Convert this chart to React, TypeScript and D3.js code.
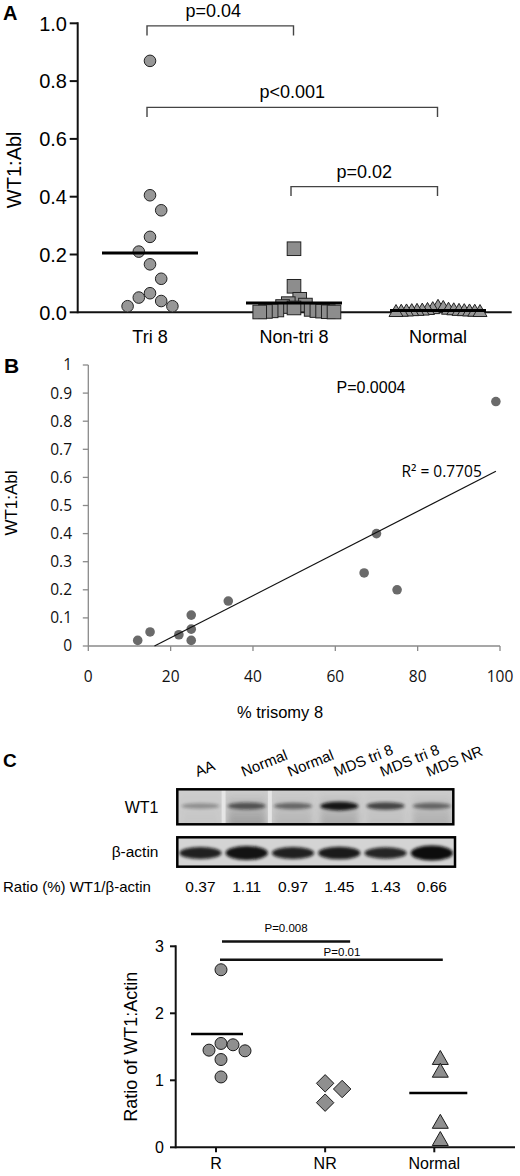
import * as d3 from "d3";

const FONT = "'Liberation Sans', Arial, Helvetica, sans-serif";
const FONT_XL = "'Open Sans', 'Liberation Sans', sans-serif";

// ---------- panel A: WT1:Abl by group ----------
const groupsA = ["Tri 8", "Non-tri 8", "Normal"];
const tri8 = [0.87, 0.405, 0.353, 0.261, 0.21, 0.166, 0.116, 0.066, 0.051, 0.039, 0.021, 0.021];
const nonTri8 = [0.22, 0.09, 0.045, 0.03, 0.025, 0.02, 0.015, 0.01, 0.008, 0.006, 0.005, 0.004, 0.003, 0.002, 0.001, 0.001];
const normalA = [0.02, 0.016, 0.012, 0.01, 0.009, 0.008, 0.007, 0.006, 0.006, 0.005, 0.005, 0.004, 0.004, 0.003, 0.003, 0.002, 0.002];
const meanLinesA = [0.205, 0.032, 0.006];
const ticksA = [0, 0.2, 0.4, 0.6, 0.8, 1.0];
const bracketsA = [
  { from: 0, to: 1, level: 0.991, label: "p=0.04" },
  { from: 0, to: 2, level: 0.709, label: "p<0.001" },
  { from: 1, to: 2, level: 0.435, label: "p=0.02" },
];

// ---------- panel B: scatter ----------
const trisomyPct = [99, 70, 67, 75, 34, 25, 25, 25, 22, 15, 12];
const wt1Abl = [0.87, 0.4, 0.26, 0.2, 0.16, 0.11, 0.06, 0.02, 0.04, 0.05, 0.02];
const ticksBY = [0, 0.1, 0.2, 0.3, 0.4, 0.5, 0.6, 0.7, 0.8, 0.9, 1];
const ticksBX = [0, 20, 40, 60, 80, 100];

// ---------- panel C: blot + ratio plot ----------
const lanes = ["AA", "Normal", "Normal", "MDS tri 8", "MDS tri 8", "MDS NR"];
const ratios = ["0.37", "1.11", "0.97", "1.45", "1.43", "0.66"];
const wt1Intensity = [0.3, 0.6, 0.5, 0.95, 0.7, 0.5];
const wt1Smear = [0.05, 0.4, 0.2, 0.3, 0.1, 0.25];
const actinIntensity = [0.9, 0.97, 0.9, 0.93, 0.88, 1.0];

const groupsC = ["R", "NR", "Normal"];
const rVals = [2.65, 1.55, 1.53, 1.45, 1.44, 1.31, 1.05];
const nrVals = [0.955, 0.87, 0.666];
const normalC = [1.32, 1.13, 0.367, 0.11];
const meanLinesC = [1.69, null, 0.81];
const ticksC = [0, 1, 2, 3];

// simple column beeswarm: greedy, highest value first
function swarm(values: number[], y: (v: number) => number, size: number, minDy: number, maxHalf: number) {
  const order = values.map((_, i) => i).sort((a, b) => values[b] - values[a]);
  const slots: number[] = new Array(values.length).fill(0);
  const placed: { slot: number; y: number }[] = [];
  for (const i of order) {
    const py = y(values[i]);
    const free = (s: number) => placed.every((p) => p.slot !== s || Math.abs(p.y - py) >= minDy);
    const count = (s: number) => placed.filter((p) => Math.sign(p.slot) === Math.sign(s)).length;
    let chosen = 0;
    if (!free(0)) {
      for (let k = 1; k < 60; k++) {
        const first = count(k) <= count(-k) ? k : -k;
        if (free(first)) { chosen = first; break; }
        if (free(-first)) { chosen = -first; break; }
      }
    }
    slots[i] = chosen;
    placed.push({ slot: chosen, y: py });
  }
  const maxSlot = d3.max(slots, (s) => Math.abs(s)) || 1;
  const step = Math.min(size, maxHalf / maxSlot);
  return slots.map((s) => s * step);
}

const triPath = (x: number, y: number, w: number, h: number) =>
  `M${x},${y - h * 0.6}L${x + w / 2},${y + h * 0.4}L${x - w / 2},${y + h * 0.4}Z`;
const diamondPath = (x: number, y: number, r: number) =>
  `M${x},${y - r}L${x + r},${y}L${x},${y + r}L${x - r},${y}Z`;

const PanelA = () => {
  const y = d3.scaleLinear().domain([0, 1]).range([312.3, 23.3]);
  const x = d3.scalePoint().domain(groupsA).range([150, 438]);
  const xs = groupsA.map((g) => x(g)!);
  const offTri = swarm(tri8, y, 11.2, 17.4, 40);
  const offNon = swarm(nonTri8, y, 14, 21, 40);
  const offNorm = swarm(normalA, y, 11, 16, 42);
  const symFill = "#979797";
  const symStroke = "#222";

  return (
    <g>
      <text x={3} y={20} fontFamily={FONT} fontWeight="bold" fontSize={20}>A</text>
      <text
        transform={`translate(21,${(y(0) + y(1)) / 2 + 2}) rotate(-90)`}
        textAnchor="middle"
        fontFamily={FONT}
        fontSize={20}
      >
        WT1:Abl
      </text>
      {/* axes */}
      <line x1={77.7} x2={77.7} y1={y(1) - 1} y2={y(0) + 1} stroke="#111" strokeWidth={2} />
      <line x1={77.7} x2={511.7} y1={y(0)} y2={y(0)} stroke="#111" strokeWidth={2} />
      {ticksA.map((t) => (
        <g key={t}>
          <line x1={69.7} x2={77.7} y1={y(t)} y2={y(t)} stroke="#111" strokeWidth={2} />
          <text x={67} y={y(t)} dy="0.36em" textAnchor="end" fontFamily={FONT} fontSize={20}>
            {d3.format(".1f")(t)}
          </text>
        </g>
      ))}
      {groupsA.map((g) => (
        <text key={g} x={x(g)} y={343} textAnchor="middle" fontFamily={FONT} fontSize={18}>
          {g}
        </text>
      ))}
      {/* brackets */}
      {bracketsA.map((b, i) => {
        const x1 = xs[b.from] - 3;
        const x2 = xs[b.to] - 0.5;
        const yy = y(b.level);
        const tip = y(b.level - 0.033);
        return (
          <g key={i}>
            <path d={`M${x1},${tip}V${yy}H${x2}V${tip}`} fill="none" stroke="#444" strokeWidth={1.4} />
            <text
              x={(x1 + x2) / 2 + (b.from === 0 && b.to === 1 ? -7 : 0)}
              y={yy - 9}
              textAnchor="middle"
              fontFamily={FONT}
              fontSize={18}
            >
              {b.label}
            </text>
          </g>
        );
      })}
      {/* symbols */}
      {tri8.map((v, i) => (
        <circle key={i} cx={xs[0] + offTri[i]} cy={y(v)} r={5.8} fill={symFill} stroke={symStroke} strokeWidth={1} />
      ))}
      {nonTri8.map((v, i) => (
        <rect
          key={i}
          x={xs[1] + offNon[i] - 6.8}
          y={y(v) - 6.8}
          width={13.6}
          height={13.6}
          fill="#8d8d8d"
          stroke={symStroke}
          strokeWidth={1}
        />
      ))}
      {normalA.map((v, i) => (
        <path key={i} d={triPath(xs[2] + offNorm[i], y(v), 14, 12)} fill={symFill} stroke={symStroke} strokeWidth={1} />
      ))}
      {meanLinesA.map((m, i) => (
        <line key={i} x1={xs[i] - 48} x2={xs[i] + 48} y1={y(m)} y2={y(m)} stroke="#000" strokeWidth={3} />
      ))}
    </g>
  );
};

const PanelB = () => {
  const x = d3.scaleLinear().domain([0, 100]).range([88.3, 500]);
  const y = d3.scaleLinear().domain([0, 1]).range([646, 365]);
  const mx = d3.mean(trisomyPct)!;
  const my = d3.mean(wt1Abl)!;
  const sxy = d3.sum(trisomyPct, (v, i) => (v - mx) * (wt1Abl[i] - my));
  const sxx = d3.sum(trisomyPct, (v) => (v - mx) ** 2);
  const slope = sxy / sxx;
  const icpt = my - slope * mx;
  const x0 = -icpt / slope;
  const x1 = d3.max(trisomyPct)!;
  const axis = "#8a8a8a";

  return (
    <g>
      <text x={4} y={373} fontFamily={FONT} fontWeight="bold" fontSize={21}>B</text>
      <text transform={`translate(17,503) rotate(-90)`} textAnchor="middle" fontFamily={FONT} fontSize={17}>
        WT1:Abl
      </text>
      <line x1={x(0)} x2={x(0)} y1={y(1)} y2={y(0)} stroke={axis} strokeWidth={1.3} />
      <line x1={x(0)} x2={x(100)} y1={y(0)} y2={y(0)} stroke={axis} strokeWidth={1.3} />
      {ticksBY.map((t) => (
        <g key={t}>
          <line x1={x(0) - 5.5} x2={x(0)} y1={y(t)} y2={y(t)} stroke={axis} strokeWidth={1.3} />
          <text x={72} y={y(t)} dy="0.35em" textAnchor="end" fontFamily={FONT_XL} fontSize={15.5} fill="#111">
            {d3.format("~g")(t)}
          </text>
        </g>
      ))}
      {ticksBX.map((t) => (
        <g key={t}>
          <line x1={x(t)} x2={x(t)} y1={y(0)} y2={y(0) + 5} stroke={axis} strokeWidth={1.3} />
          <text x={x(t)} y={681.5} textAnchor="middle" fontFamily={FONT_XL} fontSize={15.5} fill="#111">
            {t}
          </text>
        </g>
      ))}
      <text x={280} y={718} textAnchor="middle" fontFamily={FONT} fontSize={16.5}>% trisomy 8</text>
      {trisomyPct.map((v, i) => (
        <circle key={i} cx={x(v)} cy={y(wt1Abl[i])} r={4.8} fill="#6a6a6a" />
      ))}
      <line x1={x(x0)} y1={y(0)} x2={x(x1)} y2={y(slope * x1 + icpt)} stroke="#111" strokeWidth={1.2} />
      <text x={336.5} y={393} fontFamily={FONT} fontSize={16}>P=0.0004</text>
      <text x={401.5} y={476.5} fontFamily={FONT_XL} fontSize={15.5}>R² = 0.7705</text>
    </g>
  );
};

const Blot = () => {
  const lx = d3.scaleBand<number>().domain(lanes.map((_, i) => i)).range([177.3, 455]);
  const bw = lx.bandwidth();
  const cx = (i: number) => lx(i)! + bw / 2;
  const wt1 = { x: 177.3, y: 789.3, w: 276, h: 35 };
  const act = { x: 177.3, y: 837.3, w: 277.7, h: 29.4 };

  return (
    <g>
      <defs>
        <filter id="blurBand" x="-20%" y="-100%" width="140%" height="300%">
          <feGaussianBlur stdDeviation="1.6" />
        </filter>
        <filter id="blurSmear" x="-20%" y="-50%" width="140%" height="200%">
          <feGaussianBlur stdDeviation="3" />
        </filter>
        <linearGradient id="smear" x1="0" y1="0" x2="0" y2="1">
          <stop offset="0" stopColor="#555" stopOpacity={0.2} />
          <stop offset="1" stopColor="#444" stopOpacity={1} />
        </linearGradient>
        <clipPath id="clipWt1">
          <rect x={wt1.x} y={wt1.y} width={wt1.w} height={wt1.h} />
        </clipPath>
        <clipPath id="clipAct">
          <rect x={act.x} y={act.y} width={act.w} height={act.h} />
        </clipPath>
      </defs>
      <text x={3} y={767} fontFamily={FONT} fontWeight="bold" fontSize={19}>C</text>
      {lanes.map((l, i) => (
        <text
          key={i}
          transform={`translate(${cx(i) - 3},777) rotate(-22)`}
          fontFamily={FONT}
          fontSize={15}
        >
          {l}
        </text>
      ))}
      {/* WT1 blot */}
      <g clipPath="url(#clipWt1)">
        <rect x={wt1.x} y={wt1.y} width={wt1.w} height={wt1.h} fill="#cdcdcd" />
        {lanes.map((_, i) => (
          <rect
            key={i}
            x={lx(i)! + 4}
            y={wt1.y + 6}
            width={bw - 8}
            height={wt1.h}
            fill="url(#smear)"
            opacity={wt1Smear[i]}
            filter="url(#blurSmear)"
          />
        ))}
        {[1, 2].map((i) => (
          <rect key={i} x={lx(i)! - 2} y={wt1.y} width={4} height={wt1.h} fill="#ececec" opacity={0.8} />
        ))}
        {lanes.map((_, i) => (
          <ellipse
            key={i}
            cx={cx(i)}
            cy={806}
            rx={bw / 2 - 4}
            ry={2 + 2.5 * wt1Intensity[i]}
            fill="#111"
            opacity={wt1Intensity[i]}
            filter="url(#blurBand)"
          />
        ))}
      </g>
      <rect x={wt1.x} y={wt1.y} width={wt1.w} height={wt1.h} fill="none" stroke="#000" strokeWidth={2.5} />
      {/* actin blot */}
      <g clipPath="url(#clipAct)">
        <rect x={act.x} y={act.y} width={act.w} height={act.h} fill="#d4d4d4" />
        {lanes.map((_, i) => (
          <ellipse
            key={i}
            cx={cx(i)}
            cy={853}
            rx={bw / 2 - 2}
            ry={3 + 4.5 * actinIntensity[i] ** 4}
            fill="#0c0c0c"
            opacity={actinIntensity[i]}
            filter="url(#blurBand)"
          />
        ))}
      </g>
      <rect x={act.x} y={act.y} width={act.w} height={act.h} fill="none" stroke="#000" strokeWidth={2.5} />
      <text x={158.5} y={813} textAnchor="end" fontFamily={FONT} fontSize={16}>WT1</text>
      <text x={158.5} y={856.5} textAnchor="end" fontFamily={FONT} fontSize={15.5}>β-actin</text>
      <text x={3} y={891.5} fontFamily={FONT} fontSize={15}>Ratio (%) WT1/β-actin</text>
      {ratios.map((r, i) => (
        <text key={i} x={cx(i)} y={891.5} textAnchor="middle" fontFamily={FONT} fontSize={15.5}>
          {r}
        </text>
      ))}
    </g>
  );
};

const PanelC = () => {
  const y = d3.scaleLinear().domain([0, 3]).range([1147.3, 946.3]);
  const x = d3.scalePoint().domain(groupsC).range([216, 434.3]);
  const xs = groupsC.map((g) => x(g)!);
  const offR = swarm(rVals, y, 12, 12, 40);
  const offNR = swarm(nrVals, y, 17, 17, 40);
  const offN = swarm(normalC, y, 16, 12, 40);
  const fill = "#8f8f8f";
  const stroke = "#1a1a1a";

  return (
    <g>
      <text
        transform={`translate(137,${(y(0) + y(3)) / 2}) rotate(-90)`}
        textAnchor="middle"
        fontFamily={FONT}
        fontSize={18}
      >
        Ratio of WT1:Actin
      </text>
      <line x1={175.7} x2={175.7} y1={y(3) - 1} y2={y(0) + 1} stroke="#111" strokeWidth={2} />
      <line x1={175.7} x2={515} y1={y(0)} y2={y(0)} stroke="#111" strokeWidth={2} />
      {ticksC.map((t) => (
        <g key={t}>
          <line x1={170} x2={175.7} y1={y(t)} y2={y(t)} stroke="#111" strokeWidth={2} />
          <text x={164} y={y(t)} dy="0.36em" textAnchor="end" fontFamily={FONT} fontSize={16}>
            {t}
          </text>
        </g>
      ))}
      {groupsC.map((g) => (
        <g key={g}>
          <line x1={x(g)} x2={x(g)} y1={y(0)} y2={y(0) + 5} stroke="#111" strokeWidth={2} />
          <text x={x(g)} y={1168.5} textAnchor="middle" fontFamily={FONT} fontSize={16}>
            {g}
          </text>
        </g>
      ))}
      {/* significance bars */}
      <line x1={xs[0] + 6} x2={xs[1] + 25} y1={y(3.07)} y2={y(3.07)} stroke="#111" strokeWidth={2.5} />
      <text x={(xs[0] + 6 + xs[1] + 25) / 2} y={y(3.07) - 9.5} textAnchor="middle" fontFamily={FONT} fontSize={11.5}>
        P=0.008
      </text>
      <line x1={xs[0] + 4} x2={xs[2] + 8.5} y1={y(2.8)} y2={y(2.8)} stroke="#111" strokeWidth={2.5} />
      <text x={342} y={y(2.8) - 4} textAnchor="middle" fontFamily={FONT} fontSize={11.5}>
        P=0.01
      </text>
      {rVals.map((v, i) => (
        <circle key={i} cx={xs[0] + 5 + offR[i]} cy={y(v)} r={6} fill={fill} stroke={stroke} strokeWidth={1} />
      ))}
      {nrVals.map((v, i) => (
        <path key={i} d={diamondPath(xs[1] + offNR[i], y(v), 8.7)} fill={fill} stroke={stroke} strokeWidth={1} />
      ))}
      {normalC.map((v, i) => (
        <path key={i} d={triPath(xs[2] + 6 + offN[i], y(v), 16, 14)} fill={fill} stroke={stroke} strokeWidth={1} />
      ))}
      {meanLinesC.map((m, i) =>
        m === null ? null : (
          <line key={i} x1={xs[i] + 1 - 26} x2={xs[i] + 1 + 26 + (i === 2 ? 6 : 0)} y1={y(m)} y2={y(m)} stroke="#000" strokeWidth={2.5} />
        )
      )}
    </g>
  );
};

export default function App() {
  return (
    <svg
      width={520}
      height={1176}
      viewBox="0 0 520 1176"
      style={{ position: "absolute", left: 0, top: 0, background: "#fff" }}
    >
      <rect width={520} height={1176} fill="#fff" />
      <PanelA />
      <PanelB />
      <Blot />
      <PanelC />
    </svg>
  );
}
